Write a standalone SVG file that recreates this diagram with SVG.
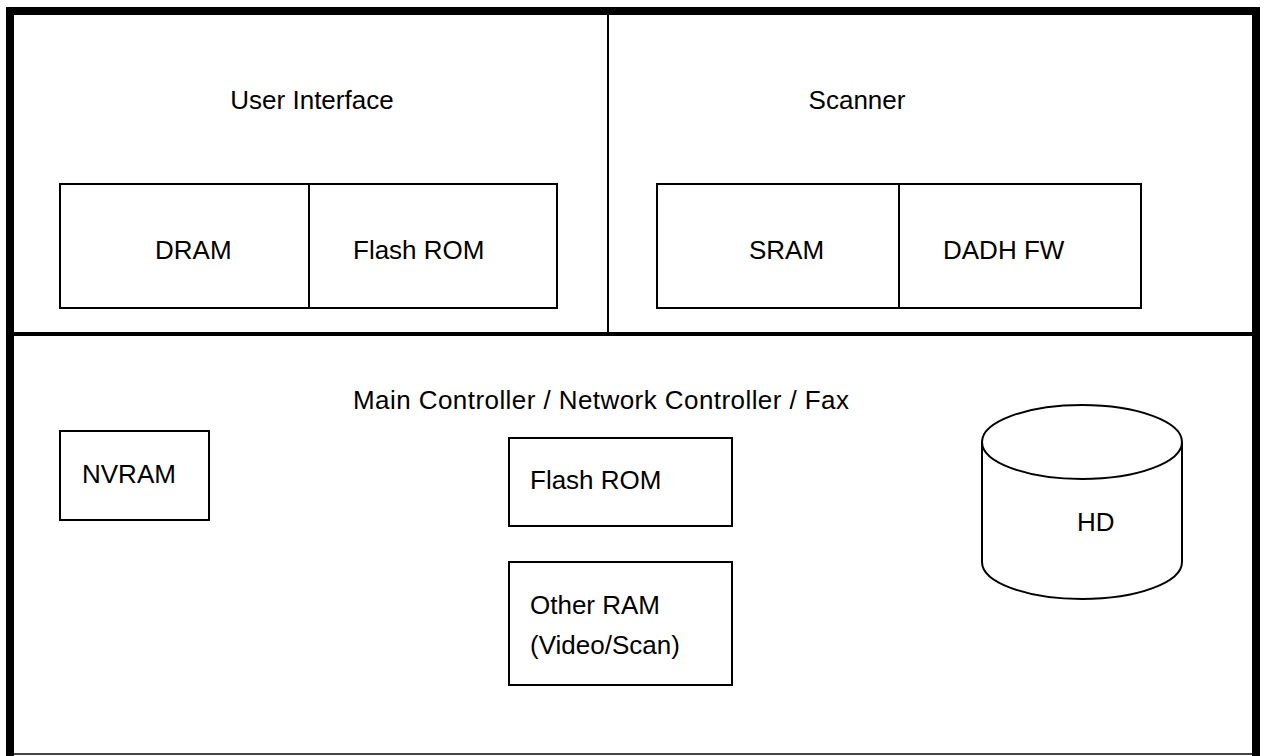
<svg xmlns="http://www.w3.org/2000/svg" width="1264" height="756" viewBox="0 0 1264 756">
  <style>
    .frame { fill: none; stroke: #000; stroke-width: 8; }
    .divider { fill: none; stroke: #000; }
    .box { fill: #fff; stroke: #000; stroke-width: 2; }
    .label { font-family: "Liberation Sans", Arial, Helvetica, sans-serif; font-size: 26px; fill: #000; }
  </style>
  <rect width="1264" height="756" fill="#fff"/>

  <!-- outer enclosure and section dividers -->
  <g id="enclosure">
    <path class="frame" d="M10,760 V11 H1256 V760"/>
    <line x1="14" y1="754" x2="1252" y2="754" stroke="#444" stroke-width="2"/>
    <line class="divider" x1="608" y1="15" x2="608" y2="334" stroke="#222" stroke-width="2"/>
    <line class="divider" x1="14" y1="334" x2="1252" y2="334" stroke-width="4"/>
  </g>

  <!-- User Interface section -->
  <g id="user-interface">
    <text class="label" x="312" y="109" text-anchor="middle">User Interface</text>
  </g>
  <g id="ui-dram">
    <rect class="box" x="60" y="184" width="249" height="124"/>
    <text class="label" x="155" y="259">DRAM</text>
  </g>
  <g id="ui-flash-rom">
    <rect class="box" x="309" y="184" width="248" height="124"/>
    <text class="label" x="353" y="259">Flash ROM</text>
  </g>

  <!-- Scanner section -->
  <g id="scanner">
    <text class="label" x="857" y="109" text-anchor="middle">Scanner</text>
  </g>
  <g id="scanner-sram">
    <rect class="box" x="657" y="184" width="242" height="124"/>
    <text class="label" x="749" y="259">SRAM</text>
  </g>
  <g id="scanner-dadh-fw">
    <rect class="box" x="899" y="184" width="242" height="124"/>
    <text class="label" x="943" y="259">DADH FW</text>
  </g>

  <!-- Main controller section -->
  <g id="main-controller">
    <text class="label" x="353" y="409" textLength="496">Main Controller / Network Controller / Fax</text>
  </g>
  <g id="nvram">
    <rect class="box" x="60" y="431" width="149" height="89"/>
    <text class="label" x="82" y="483">NVRAM</text>
  </g>
  <g id="mc-flash-rom">
    <rect class="box" x="509" y="438" width="223" height="88"/>
    <text class="label" x="530" y="489">Flash ROM</text>
  </g>
  <g id="other-ram">
    <rect class="box" x="509" y="562" width="223" height="123"/>
    <text class="label" x="530" y="614">Other RAM</text>
    <text class="label" x="530" y="654">(Video/Scan)</text>
  </g>
  <g id="hd">
    <path class="box" d="M982,442 V562 A100,37 0 0 0 1182,562 V442"/>
    <ellipse class="box" cx="1082" cy="442" rx="100" ry="37"/>
    <text class="label" x="1077" y="531">HD</text>
  </g>

  <g id="connectors"/>
</svg>
